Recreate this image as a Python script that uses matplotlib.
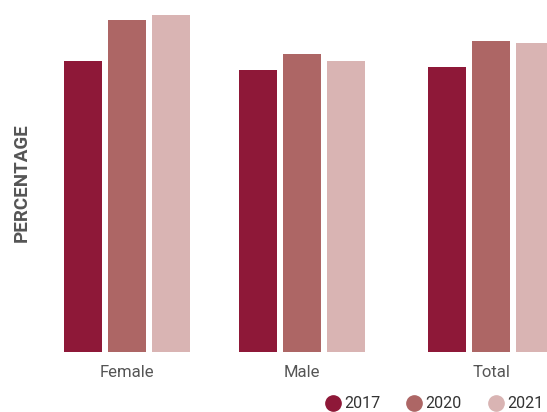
import matplotlib
matplotlib.use("Agg")
import matplotlib.pyplot as plt
from matplotlib.lines import Line2D
import numpy as np

categories = ["Female", "Male", "Total"]
years = ["2017", "2020", "2021"]
pct_2017 = [82.6, 80.0, 81.0]
pct_2020 = [94.2, 84.7, 88.4]
pct_2021 = [95.7, 82.6, 87.8]

colors = ["#8E1838", "#AD6665", "#D9B4B3"]
narrow = ["Liberation Sans Narrow", "Roboto", "DejaVu Sans"]

fig = plt.figure(figsize=(5.47, 4.12), dpi=100)
ax = fig.add_axes([0, 0.1456, 1, 0.8544])

group_pos = np.array([0, 1, 2.08])
step = 44 / 175
width = 38 / 175
series = [pct_2017, pct_2020, pct_2021]
for i, (vals, c) in enumerate(zip(series, colors)):
    ax.bar(group_pos + (i - 1) * step, vals, width=width, color=c, label=years[i])

ax.set_ylim(0, 100)
ax.set_xlim(-127 / 175, 420 / 175)
ax.set_xticks(group_pos)
ax.set_xticklabels(categories, family=narrow, fontsize=12, color="#555555")
ax.tick_params(axis="x", length=0, pad=9)
ax.set_yticks([])
for s in ax.spines.values():
    s.set_visible(False)

fig.text(22 / 547, 1 - 183 / 412, "PERCENTAGE", rotation=90, ha="center", va="center",
         fontsize=13.5, fontweight="bold", color="#555555", family=["Roboto", "DejaVu Sans"])

handles = [Line2D([], [], marker="o", linestyle="none", markersize=11, color=c) for c in colors]
leg = fig.legend(handles, years, loc="lower right", bbox_to_anchor=(1.02, -0.033), ncol=3,
                 frameon=False, handlelength=1.0, handletextpad=0.2, columnspacing=1.65,
                 prop={"family": narrow, "size": 11.5})
for t in leg.get_texts():
    t.set_color("#333333")

fig.savefig("out.png", dpi=100)
